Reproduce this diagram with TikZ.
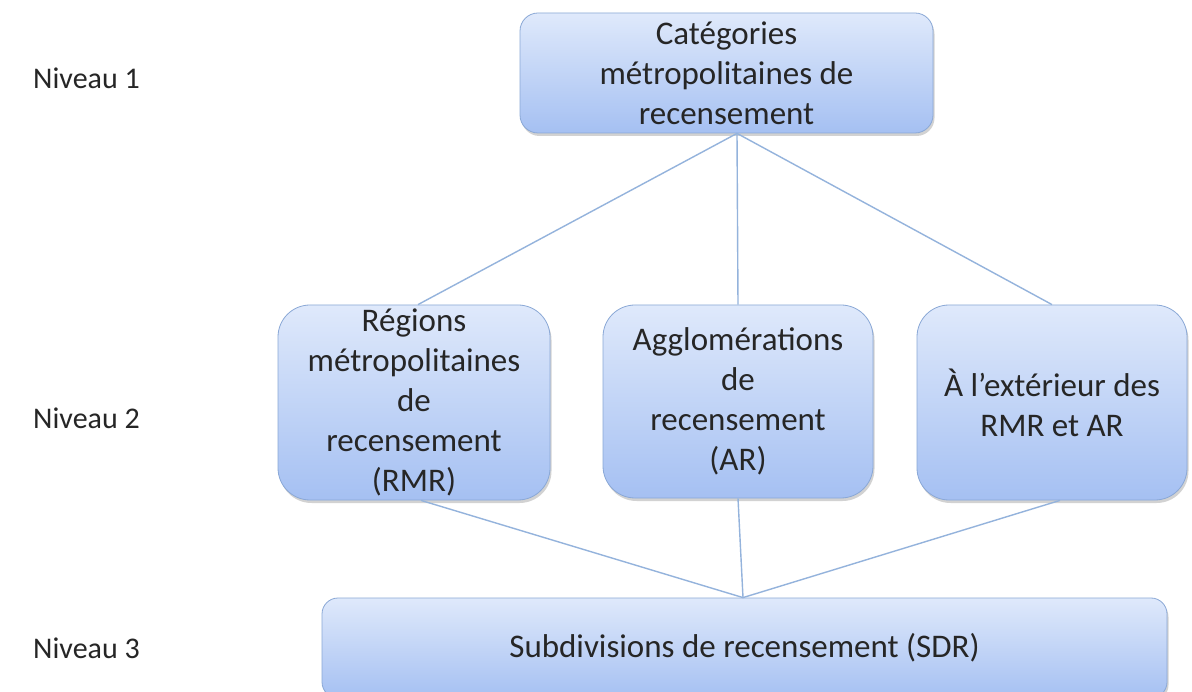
\documentclass[tikz,border=0pt]{standalone}
\usepackage{fontspec}
\setmainfont{Carlito}
\usetikzlibrary{shadows}
\definecolor{boxtop}{HTML}{DFE9FB}
\definecolor{boxbot}{HTML}{A5C0F2}
\definecolor{boxline}{HTML}{8AA8D6}
\definecolor{conn}{HTML}{94B3DC}
\definecolor{txt}{HTML}{262626}
\tikzset{
  box/.style={rounded corners=#1, draw=boxline, line width=0.8pt,
    top color=boxtop, bottom color=boxbot, inner sep=0pt, align=center,
    text=txt, font=\fontsize{33}{40}\selectfont,
    drop shadow={opacity=0.35, shadow xshift=1.5pt, shadow yshift=-3pt}},
  lvl/.style={anchor=east, text=txt, font=\fontsize{30}{36}\selectfont, inner sep=0pt},
  link/.style={draw=conn, line width=1.4pt}
}
\begin{document}
\begin{tikzpicture}[x=1pt,y=-1pt]
\useasboundingbox[fill=white] (0,0) rectangle (1192,692);
% level labels
\node[lvl] (n1) at (140,78) {Niveau 1};
\node[lvl] (n2) at (140,418) {Niveau 2};
\node[lvl] (n3) at (140,648) {Niveau 3};
% boxes
\node[box=18pt, minimum width=413pt, minimum height=120pt] (top) at (726.5,73)
  {Catégories\\métropolitaines de\\recensement};
\node[box=32pt, minimum width=272pt, minimum height=195pt] (rmr) at (414,402.5)
  {Régions\\métropolitaines\\de\\recensement\\(RMR)};
\node[box=32pt, minimum width=270pt, minimum height=193pt] (ar) at (738,401.5)
  {Agglomérations\\de\\recensement\\(AR)};
\node[box=32pt, minimum width=270pt, minimum height=195pt] (ext) at (1052,402.5)
  {À l’extérieur des\\RMR et AR};
\node[box=16pt, minimum width=845pt, minimum height=100pt] (sdr) at (744.5,648)
  {Subdivisions de recensement (SDR)};
% hubs
\coordinate (hubtop) at ([xshift=10.5pt]top.south);
\coordinate (hubbot) at ([xshift=-1.5pt]sdr.north);
\begin{scope}[on background layer/.try]
\end{scope}
% connectors
\path[link] (hubtop) -- ([xshift=4pt]rmr.north);
\path[link] (hubtop) -- (ar.north);
\path[link] (hubtop) -- (ext.north);
\path[link] ([xshift=7pt]rmr.south) -- (hubbot);
\path[link] (ar.south) -- (hubbot);
\path[link] ([xshift=8pt]ext.south) -- (hubbot);
\end{tikzpicture}
\end{document}
